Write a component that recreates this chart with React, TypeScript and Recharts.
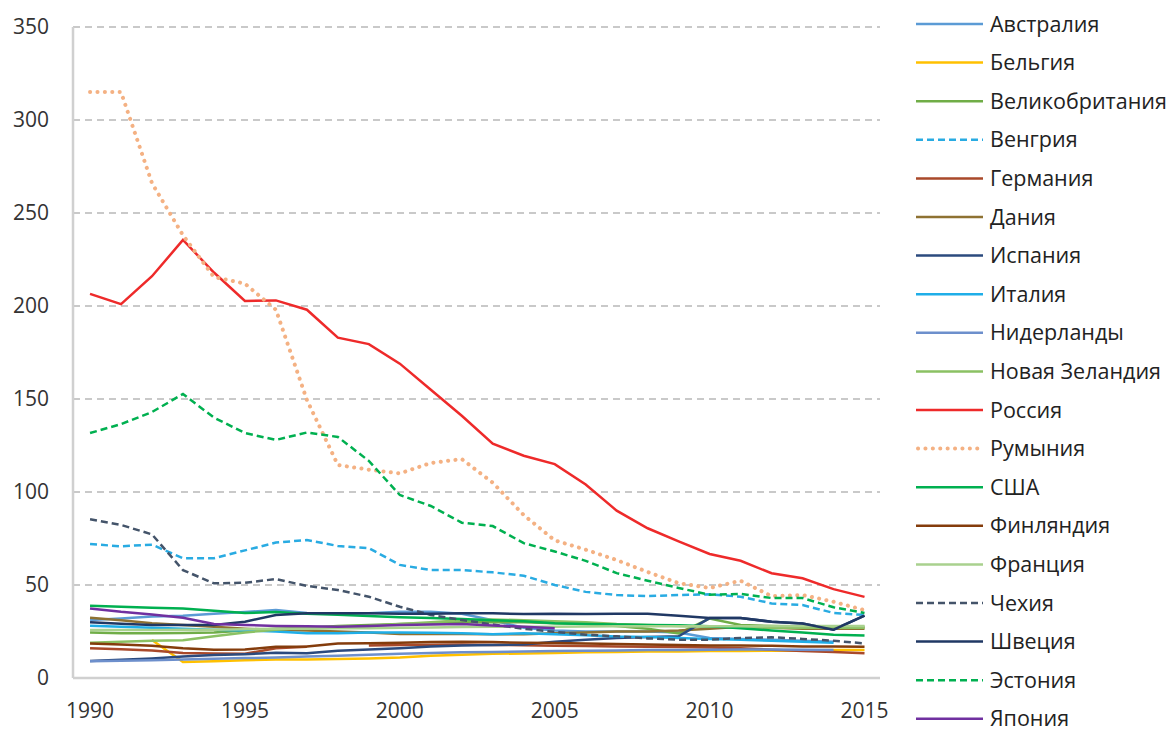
import React from "react";
import { LineChart, Line, XAxis, YAxis, CartesianGrid } from "recharts";

// годы 1990–2015
const YEARS = [
  1990, 1991, 1992, 1993, 1994, 1995, 1996, 1997, 1998, 1999, 2000, 2001, 2002,
  2003, 2004, 2005, 2006, 2007, 2008, 2009, 2010, 2011, 2012, 2013, 2014, 2015,
];
const X_TICKS = [1990, 1995, 2000, 2005, 2010, 2015];
const Y_TICKS = [0, 50, 100, 150, 200, 250, 300, 350];

const australia = [31.2, 32, 33, 33.5, 34.5, 35.5, 36.5, 35, 34.5, 34.8, 35.6, 35.6, 34.5, 31, 27, 25.5, 25, 25, 25, 24.5, 21.5, 21, 20.5, 20, 19.5, null];
const belgium = [null, null, 20.4, 8.6, 9, 9.5, 10, 10, 10.2, 10.5, 11, 12, 12.5, 13, 13.2, 13.5, 13.8, 14, 14.2, 14.3, 14.5, 14.5, 14.7, 14.8, 15, 15];
const uk = [24.4, 24, 24, 24.2, 24.5, 25.5, 26.5, 27, 28, 28.5, 29, 29.5, 30, 30, 30, 29.5, 29, 28, 26.5, 24, 32, 28.5, 28, 27.5, 27.5, 27.5];
const hungary = [72, 70.8, 71.7, 64.4, 64.4, 68.6, 72.8, 74.2, 71, 69.8, 60.8, 58, 58, 56.8, 55, 50, 46.3, 44.6, 44, 44.6, 45, 43.7, 40.1, 39.2, 35, 33.9];
const germany = [16, 15.4, 14.8, 13.5, 13.2, 13, 16, 16.8, null, 17.5, 17.8, 17.9, 18, 17.8, 17.6, 17.4, 17.2, 17, 16.8, 16.6, 16.4, 16, 15.2, 14.5, 14, 13.3];
const denmark = [32.4, 31, 29.5, 28.5, 27.5, 26.5, 25.8, 25.5, 25, 24.5, 23.7, 23.7, 23.7, 23.5, 23.5, 24, 24.5, 25, 25, 25.5, 26.5, 27.6, 27, 26.5, 26.5, 26.5];
const spain = [9.1, 9.8, 10.5, 11.5, 12.3, 12.8, 13.6, 13.3, 14.7, 15.3, 16, 17, 17.5, 17.8, 18, 19.5, 20.6, 21.5, 22, 22.4, 32.2, 32.3, 30.2, 29.3, 26, 33.5];
const italy = [28.1, 27.5, 27, 26.5, 26, 25.5, 25, 24, 24, 24.5, 24.5, 24.3, 24, 23.5, 24, 23.5, 23, 22.3, 22, 21.5, 21, 20.5, 20, 19.5, 19, null];
const netherlands = [9, 9.3, 9.6, 10, 10.3, 10.7, 11, 11.5, 12, 12.5, 13, 13.5, 13.8, 14, 14.3, 14.5, 14.7, 14.8, 15, 15, 15.2, 15.3, 15.3, 15.2, 15, null];
const newZealand = [19, 19.5, 20, 20.3, 22.5, 24.5, 26, 27, 27.5, 28, 29, 30, 31, 31.5, 31, 30.5, 30, 29, 28.5, 28, 27.5, 27.5, 27, 27, 27, 27];
const russia = [206.5, 201, 216, 235.5, 218, 202.7, 203, 198, 183, 179.5, 169, 155, 141, 126, 119.5, 115, 104, 90, 80.5, 73.5, 66.7, 63, 56.3, 53.6, 47.8, 43.6];
const romania = [315, 315, 266, 238, 215.6, 212, 198, 149.5, 114.5, 112, 110, 115.6, 117.7, 105, 87.6, 74, 69, 63.4, 57, 51, 48.4, 52.3, 44, 44.6, 41, 36.5];
const usa = [38.8, 38.3, 37.8, 37.4, 36.2, 34.9, 35.5, 34.6, 34, 33.3, 32.6, 32.2, 31.7, 31, 30.5, 29.5, 29, 28.7, 28.5, 28.3, 27.8, 26.8, 25.5, 24.4, 23.2, 22.8];
const finland = [18.6, 18, 17.3, 16, 15.2, 15.3, 16.8, 17, 18.5, 18.7, 19, 19.3, 19.5, 19.3, 19, 18.8, 18.5, 18.3, 18, 17.8, 17.5, 17.5, 17.3, 17, 17, 16.8];
const france = [25.8, 25.8, 25.8, 25.9, 26, 26.2, 26.5, 26.5, 26.7, 26.8, 27, 27.2, 27.4, 27.5, 27.5, 27.6, 27.7, 27.8, 27.8, 27.8, 27.8, 27.8, 27.9, 28, 28, 28];
const czech = [85.3, 82.3, 77.2, 58, 50.9, 51.2, 53.2, 49.5, 47.3, 43.7, 38.3, 33.9, 31.2, 28.8, 26.5, 24.8, 23.3, 22.4, 21.3, 20.6, 20.6, 21.5, 21.9, 21, 20, 18.6];
const sweden = [30, 29.2, 28.5, 28.5, 28.5, 30.3, 33.9, 34.8, 34.8, 34.8, 34.6, 34.6, 34.8, 34.8, 34.4, 34.6, 34.4, 34.6, 34.6, 33.5, 32.3, 32.3, 30.2, 29.3, 26, 33.5];
const estonia = [131.7, 136.5, 143, 152.7, 140, 131.7, 128, 132, 129.6, 116.7, 98.4, 92.5, 83.5, 81.7, 72.5, 68, 63, 56.4, 52.3, 48.4, 44.8, 45.2, 43, 43, 38, 35];
const japan = [37.4, 35.6, 34.2, 32.4, 29, 28.5, 28, 27.8, 27.6, 28, 28.5, 28.8, 29, 28.2, 27.6, 26.8, null, null, null, null, null, null, null, null, null, null];

const SERIES = [
  { key: "au", name: "Австралия", values: australia, color: "#5B9BD5" },
  { key: "be", name: "Бельгия", values: belgium, color: "#FFC000" },
  { key: "uk", name: "Великобритания", values: uk, color: "#70AD47" },
  { key: "hu", name: "Венгрия", values: hungary, color: "#29ABE2", dash: "7 4" },
  { key: "de", name: "Германия", values: germany, color: "#A9492A" },
  { key: "dk", name: "Дания", values: denmark, color: "#8E7232" },
  { key: "es", name: "Испания", values: spain, color: "#2B4A7E" },
  { key: "it", name: "Италия", values: italy, color: "#1FAEE8" },
  { key: "nl", name: "Нидерланды", values: netherlands, color: "#6D8FCC" },
  { key: "nz", name: "Новая Зеландия", values: newZealand, color: "#8BC163" },
  { key: "ru", name: "Россия", values: russia, color: "#EE2A2A" },
  { key: "ro", name: "Румыния", values: romania, color: "#F4B183", dotted: true },
  { key: "us", name: "США", values: usa, color: "#00B050" },
  { key: "fi", name: "Финляндия", values: finland, color: "#843C0C" },
  { key: "fr", name: "Франция", values: france, color: "#A9D18E" },
  { key: "cz", name: "Чехия", values: czech, color: "#44546A", dash: "7 4" },
  { key: "se", name: "Швеция", values: sweden, color: "#203864" },
  { key: "ee", name: "Эстония", values: estonia, color: "#00B050", dash: "7 4" },
  { key: "jp", name: "Япония", values: japan, color: "#7030A0" },
];

const FONT = "'Open Sans', 'Noto Sans', sans-serif";

const data = YEARS.map((year, i) => {
  const row: { [k: string]: number | null } = { year };
  SERIES.forEach((s) => {
    row[s.key] = s.values[i];
  });
  return row;
});

const Legend = () => (
  <svg
    width={260}
    height={723}
    style={{ position: "absolute", left: 900, top: 0, overflow: "visible" }}
  >
    {SERIES.map((s, i) => {
      const y = 16 + i * 38.6;
      return (
        <g key={s.key}>
          <line
            x1={s.dotted ? 10 : 8}
            x2={s.dotted ? 73 : 75}
            y1={y}
            y2={y}
            stroke={s.color}
            strokeWidth={s.dotted ? 4 : 2.5}
            strokeDasharray={s.dotted ? "0.1 7.3" : s.dash}
            strokeLinecap={s.dotted ? "round" : "butt"}
          />
          <text
            x={82}
            y={y}
            dy="0.35em"
            fontSize={21.5}
            fontFamily={FONT}
            fill="#222"
          >
            {s.name}
          </text>
        </g>
      );
    })}
  </svg>
);

export default function App() {
  return (
    <div style={{ position: "relative", width: 1160, height: 723 }}>
      <LineChart
        width={880}
        height={720}
        data={data}
        margin={{ top: 19, right: 8, bottom: 10, left: 0 }}
      >
        <CartesianGrid
          vertical={false}
          stroke="#c9c9c9"
          strokeWidth={2}
          strokeDasharray="7 5"
        />
        <XAxis
          dataKey="year"
          type="number"
          domain={[1989.45, 2015.5]}
          ticks={X_TICKS}
          height={40}
          tickLine={false}
          tickSize={0}
          tickMargin={25}
          axisLine={{ stroke: "#d0d0d0", strokeWidth: 2.5 }}
          tick={{ fontSize: 21, fill: "#333", fontFamily: FONT }}
        />
        <YAxis
          type="number"
          domain={[0, 350]}
          ticks={Y_TICKS}
          width={65}
          tickLine={false}
          tickSize={0}
          tickMargin={24}
          axisLine={{ stroke: "#d0d0d0", strokeWidth: 2.5 }}
          tick={{ fontSize: 21, fill: "#333", fontFamily: FONT }}
        />
        {SERIES.map((s) => (
          <Line
            key={s.key}
            dataKey={s.key}
            name={s.name}
            type="linear"
            stroke={s.color}
            strokeWidth={s.dotted ? 4 : 2.5}
            strokeDasharray={s.dotted ? "0.1 7.3" : s.dash}
            strokeLinecap={s.dotted ? "round" : "butt"}
            dot={false}
            activeDot={false}
            isAnimationActive={false}
          />
        ))}
      </LineChart>
      <Legend />
    </div>
  );
}
